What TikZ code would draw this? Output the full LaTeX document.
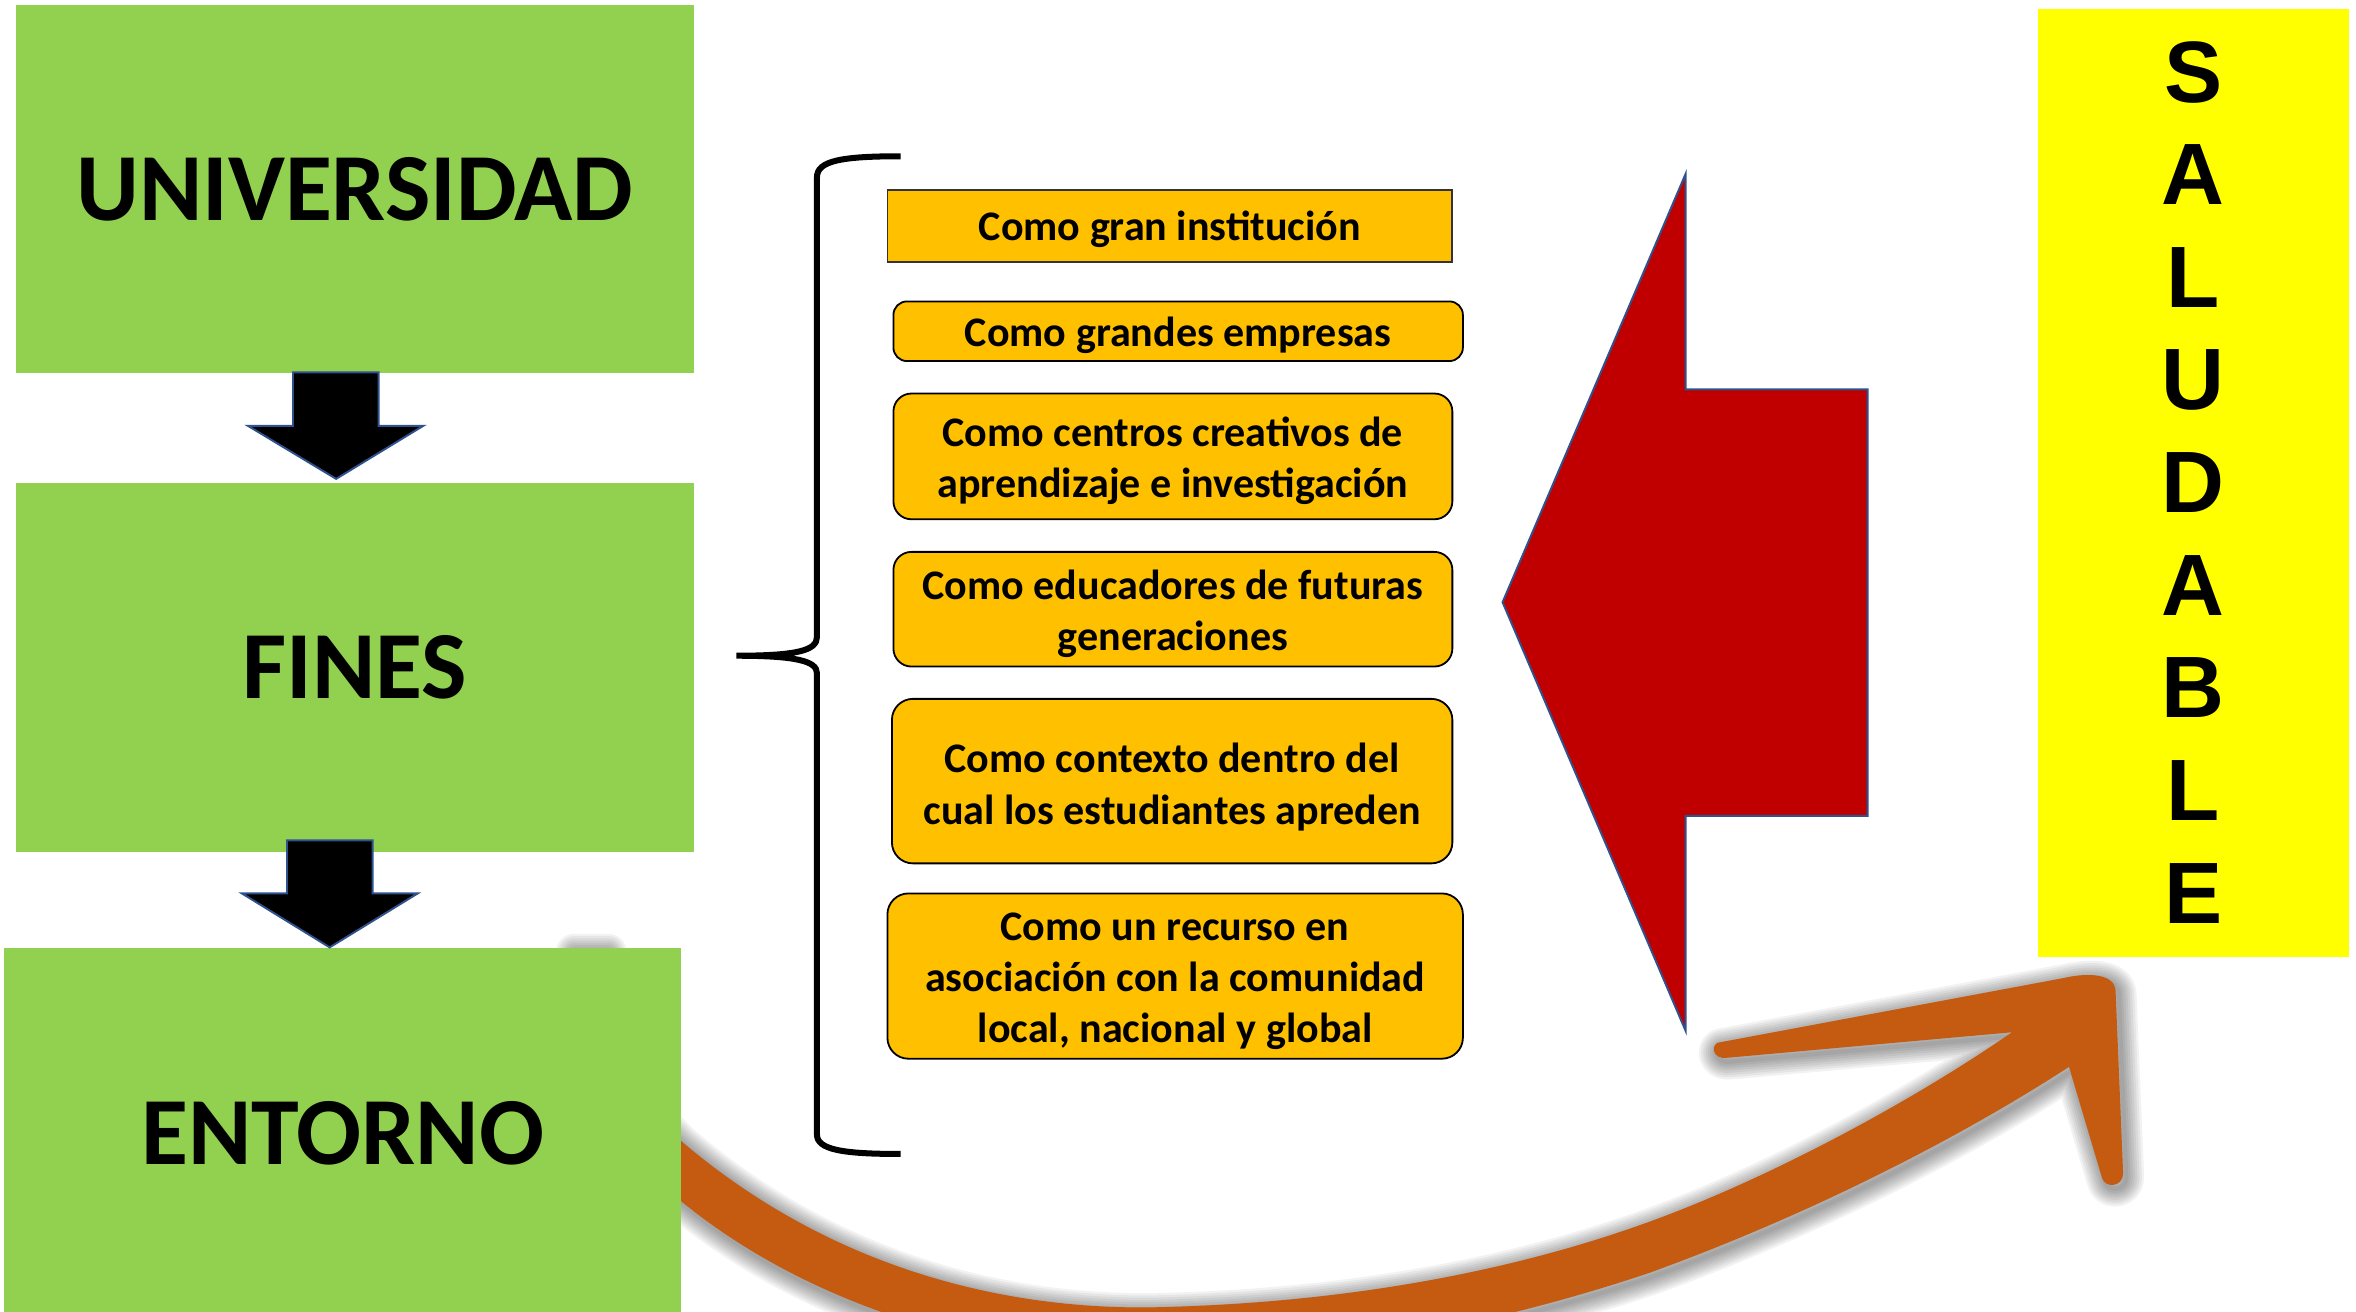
\documentclass[tikz,border=0pt]{standalone}
\usepackage{fontspec}
\setmainfont{Carlito}
\newfontfamily\arialfont{Liberation Sans}
\definecolor{boxgreen}{HTML}{92D050}
\definecolor{boxorange}{HTML}{FFC000}
\definecolor{barYellow}{HTML}{FFFF00}
\definecolor{arrowred}{HTML}{C00000}
\definecolor{swoosh}{HTML}{C55A11}
\definecolor{outlineblue}{HTML}{2F528F}
\newcommand\swooshpath[1]{%
\path[#1] (403,631) .. controls (410,700) and (425,735) .. (454,760)
 .. controls (560,850) and (680,872) .. (770,870)
 .. controls (900,867) and (1010,845) .. (1098,813)
 .. controls (1185,781.3) and (1280,728) .. (1339,687)
 -- (1149,704) .. controls (1141,705) and (1138,697) .. (1143,694) -- (1373,651) .. controls (1390,647) and (1408,648) .. (1408,660) -- (1413,781) .. controls (1413,790) and (1401,791) .. (1399,784) -- (1377,710)
 .. controls (1300,760) and (1200,810) .. (1098,847)
 .. controls (1000,880) and (880,905) .. (770,905)
 .. controls (660,905) and (540,870) .. (454,800)
 .. controls (420,770) and (395,720) .. (380,631) -- cycle;}
\tikzset{
 greenbox/.style={fill=boxgreen, inner sep=0pt, outer sep=0pt, minimum width=451pt, anchor=north west, font=\fontsize{64}{70}\selectfont\bfseries},
 itembox/.style={fill=boxorange, draw=black, line width=1.2pt, inner sep=0pt, anchor=north west},
 itemtext/.style={inner sep=0pt, align=center, font=\fontsize{28}{34.2}\selectfont\bfseries},
 blockarrow/.style={fill=black, draw=outlineblue, line width=1.3pt, line join=miter},
 letter/.style={font=\arialfont\fontsize{58}{60}\selectfont\bfseries, inner sep=0pt}
}
\begin{document}
\begin{tikzpicture}[x=1pt,y=-1pt]
\useasboundingbox (0,0) rectangle (1568,873);
\fill[white] (0,0) rectangle (1568,873);
\begin{scope}
\clip (0,0) rectangle (1568,873);
% curved arrow with soft shadow
\foreach \w in {3,6,9,12,15,18,21,24} {\swooshpath{draw=black, draw opacity=0.05, line width=\w pt, line join=round, shift={(2,2.5)}}}
\swooshpath{fill=swoosh}
% green boxes
\node[greenbox, minimum height=245.1pt] (univ) at (10.7,3.3) {UNIVERSIDAD};
\node[greenbox, minimum height=245.6pt] (fines) at (10.7,321.4) {FINES};
\node[greenbox, minimum height=246pt] (entorno) at (2.5,631) {ENTORNO};
\end{scope}
% block arrows
\draw[blockarrow] (195,247.8) -- (252,247.8) -- (252,283.4) -- (281.7,283.4) -- (223.7,318.7) -- (165,283.4) -- (195,283.4) -- cycle;
\draw[blockarrow] (191,559.3) -- (248,559.3) -- (248,594.6) -- (278,594.6) -- (219.4,630.5) -- (161,594.6) -- (191,594.6) -- cycle;
% brace
\draw[line width=4pt] (599.4,104) .. controls (560,104) and (543.7,107) .. (543.7,118) -- (543.7,424) .. controls (543.7,433) and (530,436.4) .. (490,436.4) .. controls (530,436.4) and (543.7,440) .. (543.7,448) -- (543.7,755) .. controls (543.7,765) and (560,768) .. (599.4,768);
% item boxes
\node[itembox, draw=black!80, minimum width=376pt, minimum height=47.5pt] (b1) at (590,126) {};
\node[itemtext] (t1) at ([yshift=-2.5pt]b1.center) {Como gran institución};
\node[itembox, rounded corners=9pt, minimum width=379pt, minimum height=39.7pt] (b2) at (594,200) {};
\node[itemtext] (t2) at ([yshift=-2.5pt]b2.center) {Como grandes empresas};
\node[itembox, rounded corners=12pt, minimum width=372pt, minimum height=83.7pt] (b3) at (594,261.3) {};
\node[itemtext] (t3) at ([yshift=-3pt]b3.center) {Como centros creativos de\\aprendizaje e investigación};
\node[itembox, rounded corners=12pt, minimum width=372pt, minimum height=76.3pt] (b4) at (594,366.7) {};
\node[itemtext] (t4) at ([yshift=-3pt]b4.center) {Como educadores de futuras\\generaciones};
\node[itembox, rounded corners=14pt, minimum width=373pt, minimum height=109.5pt] (b5) at (593,464.5) {};
\node[itemtext] (t5) at ([yshift=-4pt]b5.center) {Como contexto dentro del\\cual los estudiantes apreden};
\node[itembox, rounded corners=14pt, minimum width=383pt, minimum height=110pt] (b6) at (590,594) {};
\node[itemtext] (t6) at ([yshift=-3.5pt]b6.center) {Como un recurso en\\asociación con la comunidad\\local, nacional y global};
% red arrow
\draw[fill=arrowred, draw=outlineblue, line width=1.3pt] (1000,400.8) -- (1121.8,115.8) -- (1121.8,259.1) -- (1243,259.1) -- (1243,543) -- (1121.8,543) -- (1121.8,686) -- cycle;
% yellow bar
\node[fill=barYellow, inner sep=0pt, minimum width=207pt, minimum height=631pt, anchor=north west] (sbar) at (1356,6) {};
\node[letter] (l1) at (1459.7,48) {S};
\node[letter] (l2) at (1459.7,116.3) {A};
\node[letter] (l3) at (1459.7,184.6) {L};
\node[letter] (l4) at (1459.7,252.9) {U};
\node[letter] (l5) at (1459.7,321.2) {D};
\node[letter] (l6) at (1459.7,389.5) {A};
\node[letter] (l7) at (1459.7,457.8) {B};
\node[letter] (l8) at (1459.7,526.1) {L};
\node[letter] (l9) at (1459.7,594.4) {E};
\end{tikzpicture}
\end{document}
